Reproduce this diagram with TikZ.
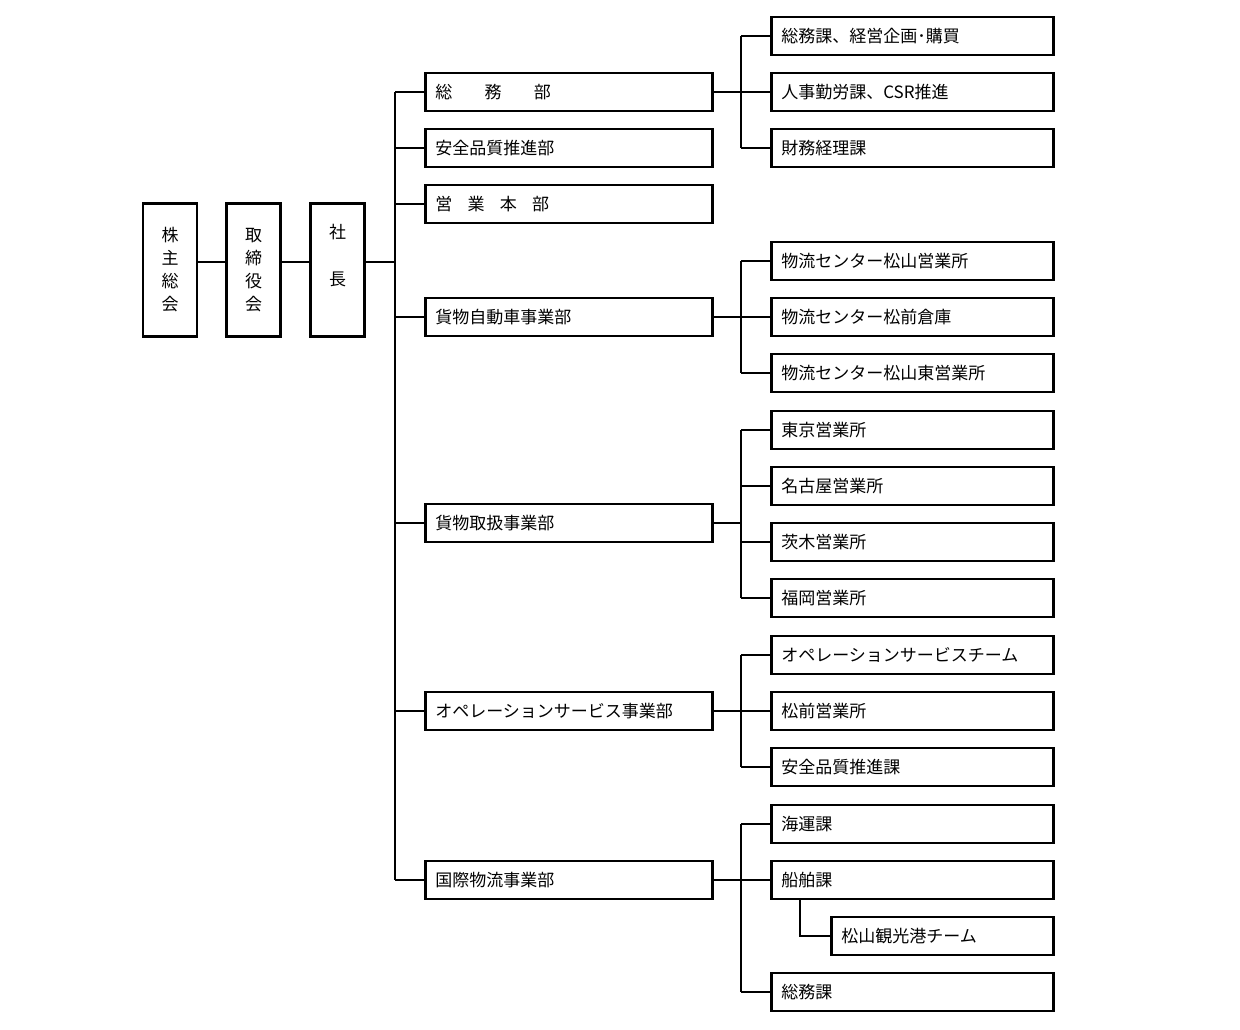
\documentclass[tikz,border=0pt]{standalone}
\usepackage{fontspec}
\setmainfont{Noto Sans CJK JP}
\usetikzlibrary{positioning}

\begin{document}
\begin{tikzpicture}[
    x=1pt, y=-1pt,
    line width=2.6pt,
    topbox/.style={draw, minimum width=54pt, minimum height=133pt, inner sep=0pt,
        align=center, font=\fontsize{17}{23}\selectfont},
    dept/.style={draw, anchor=west, minimum width=287pt, minimum height=38pt,
        text width=267pt, inner xsep=10pt, align=left, font=\fontsize{17}{20}\selectfont},
    unit/.style={dept, minimum width=282pt, text width=262pt}
]
\useasboundingbox (0,0) rectangle (1240,1030);

% Top ------------------------------------------------------

\node[topbox] (kabu) at (170,270) {株\\主\\総\\会};
\node[topbox] (tori) at (253.5,270) {取\\締\\役\\会};
\node[topbox, font=\fontsize{17}{47}\selectfont] (shacho) at (337.5,270) {社\\長\\[-16pt]};

% Departments ----------------------------------------------

\node[dept] (soumu) at (424,92) {総\hspace{1.9em}務\hspace{1.9em}部};
\node[dept] (anzen) at (424,148) {安全品質推進部};
\node[dept] (eigyo) at (424,204) {営\hspace{0.9em}業\hspace{0.9em}本\hspace{0.9em}部};
\node[dept] (kamotsu) at (424,317) {貨物自動車事業部};
\node[dept] (toriatsu) at (424,523) {貨物取扱事業部};
\node[dept] (ope) at (424,711) {オペレーションサービス事業部};
\node[dept] (kokusai) at (424,880) {国際物流事業部};

% Units ----------------------------------------------------

\node[unit] (u1) at (770,36) {総務課、経営企画･購買};
\node[unit] (u2) at (770,92) {人事勤労課、CSR推進};
\node[unit] (u3) at (770,148) {財務経理課};
\node[unit] (u4) at (770,261) {物流センター松山営業所};
\node[unit] (u5) at (770,317) {物流センター松前倉庫};
\node[unit] (u6) at (770,373) {物流センター松山東営業所};
\node[unit] (u7) at (770,430) {東京営業所};
\node[unit] (u8) at (770,486) {名古屋営業所};
\node[unit] (u9) at (770,542) {茨木営業所};
\node[unit] (u10) at (770,598) {福岡営業所};
\node[unit] (u11) at (770,655) {オペレーションサービスチーム};
\node[unit] (u12) at (770,711) {松前営業所};
\node[unit] (u13) at (770,767) {安全品質推進課};
\node[unit] (u14) at (770,824) {海運課};
\node[unit] (u15) at (770,880) {船舶課};
\node[unit, minimum width=222pt, text width=202pt] (u16) at (830,936) {松山観光港チーム};
\node[unit] (u17) at (770,992) {総務課};

\coordinate (trunk) at (395,262);
\coordinate (sub) at (741,0);
\coordinate (subsub) at (800,0);

% Lines ----------------------------------------------------

\draw (kabu.east |- trunk) -- (tori.west |- trunk);
\draw (tori.east |- trunk) -- (shacho.west |- trunk);
\draw (shacho.east |- trunk) -- (trunk);
\draw (trunk |- soumu.west) -- (trunk |- kokusai.west);
\foreach \d in {soumu, anzen, eigyo, kamotsu, toriatsu, ope, kokusai}
    \draw (trunk |- \d.west) -- (\d.west);

\foreach \d/\a/\b in {soumu/u1/u3, kamotsu/u4/u6, toriatsu/u7/u10,
        ope/u11/u13, kokusai/u14/u17} {
    \draw (\d.east) -- (sub |- \d.east);
    \draw (sub |- \a.west) -- (sub |- \b.west);
}
\foreach \u in {u1,u2,u3,u4,u5,u6,u7,u8,u9,u10,u11,u12,u13,u14,u15,u17}
    \draw (sub |- \u.west) -- (\u.west);

\draw (subsub |- u15.south) |- (u16.west);

\end{tikzpicture}
\end{document}
